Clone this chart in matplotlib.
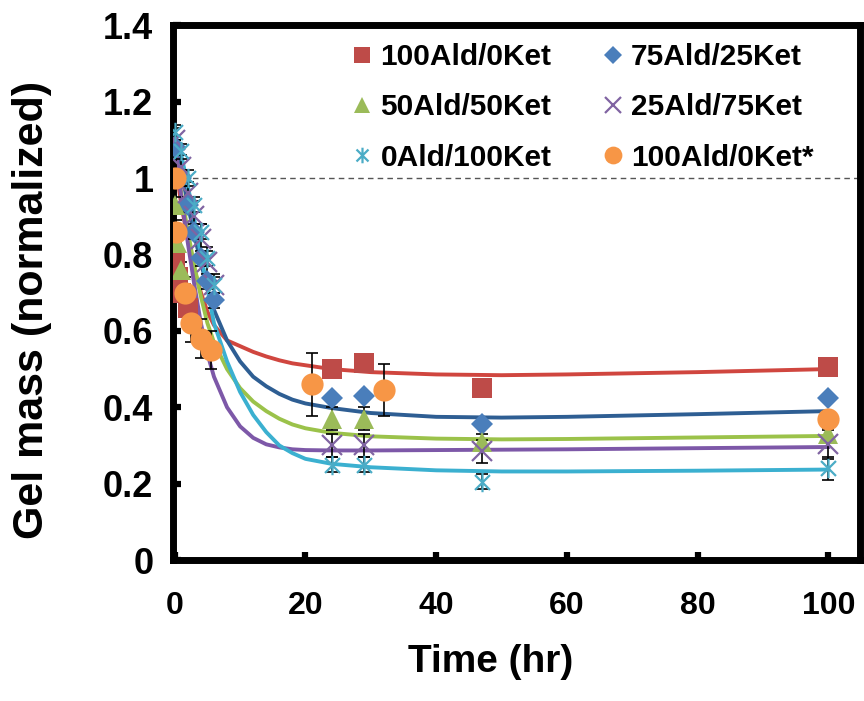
import matplotlib

matplotlib.use("Agg")
import matplotlib.pyplot as plt
from matplotlib.path import Path

plt.rcParams.update(
    {
        "font.family": ["Liberation Sans", "DejaVu Sans"],
        "font.weight": "bold",
    }
)

# ── data ────────────────────────────────────────────────────────────────────

labels = ["100Ald/0Ket", "75Ald/25Ket", "50Ald/50Ket",
          "25Ald/75Ket", "0Ald/100Ket", "100Ald/0Ket*"]

red_t = [0, 0.5, 1, 2, 24, 29, 47, 100]
red_y = [0.78, 0.74, 0.70, 0.66, 0.50, 0.515, 0.45, 0.505]
red_e = [0.02, 0.02, 0.02, 0.02, 0.0, 0.0, 0.0, 0.02]

blue_t = [0, 1, 2, 3, 4, 5, 6, 24, 29, 47, 100]
blue_y = [1.08, 1.0, 0.93, 0.86, 0.79, 0.73, 0.68, 0.425, 0.43, 0.355, 0.425]
blue_e = [0.02, 0.02, 0.02, 0.02, 0.02, 0.02, 0.02, 0.0, 0.0, 0.0, 0.0]

green_t = [0, 0.3, 1, 24, 29, 47, 100]
green_y = [0.93, 0.83, 0.76, 0.37, 0.37, 0.31, 0.33]
green_e = [0.02, 0.02, 0.02, 0.03, 0.03, 0.02, 0.01]

purple_t = [0, 1, 2, 3, 4, 5, 6, 24, 29, 47, 100]
purple_y = [1.10, 1.03, 0.96, 0.90, 0.84, 0.78, 0.72, 0.30, 0.30, 0.285, 0.305]
purple_e = [0.03, 0.03, 0.03, 0.04, 0.04, 0.04, 0.03, 0.03, 0.03, 0.03, 0.04]

cyan_t = [0, 1, 2, 3, 4, 5, 6, 24, 29, 47, 100]
cyan_y = [1.12, 1.07, 1.0, 0.93, 0.86, 0.79, 0.72, 0.25, 0.25, 0.205, 0.24]
cyan_e = [0.02, 0.02, 0.02, 0.02, 0.02, 0.02, 0.02, 0.02, 0.02, 0.02, 0.03]

orange_t = [0, 0.25, 1.5, 2.5, 4, 5.5, 21, 32, 100]
orange_y = [1.0, 0.86, 0.70, 0.62, 0.58, 0.55, 0.46, 0.445, 0.37]
orange_e = [0.02, 0.03, 0.04, 0.05, 0.05, 0.05, 0.083, 0.067, 0.02]

# fitted curves
fit_t = [0, 1, 2, 3, 4, 5, 6, 8, 10, 12, 14, 16, 18, 20, 24, 30, 40, 50, 60, 80, 100]
fit_red = [1.05, 0.93, 0.84, 0.76, 0.70, 0.65, 0.615, 0.575, 0.56, 0.545, 0.533,
           0.523, 0.515, 0.51, 0.50, 0.492, 0.486, 0.484, 0.486, 0.492, 0.50]
fit_blue = [1.10, 1.02, 0.93, 0.85, 0.78, 0.71, 0.655, 0.575, 0.52, 0.48, 0.455,
            0.435, 0.42, 0.41, 0.398, 0.385, 0.375, 0.373, 0.375, 0.382, 0.39]
fit_green = [1.08, 0.96, 0.86, 0.77, 0.69, 0.62, 0.57, 0.50, 0.45, 0.415, 0.39,
             0.37, 0.355, 0.345, 0.333, 0.324, 0.318, 0.316, 0.317, 0.321, 0.325]
fit_purple = [1.10, 0.95, 0.83, 0.72, 0.62, 0.54, 0.48, 0.40, 0.35, 0.32, 0.303,
              0.295, 0.29, 0.288, 0.287, 0.287, 0.288, 0.289, 0.29, 0.293, 0.296]
fit_cyan = [1.12, 1.06, 0.98, 0.89, 0.80, 0.71, 0.62, 0.52, 0.44, 0.38, 0.335,
            0.30, 0.28, 0.265, 0.252, 0.243, 0.235, 0.232, 0.232, 0.234, 0.237]

# Excel-style asterisk: an x plus a vertical bar
STAR = Path(
    [(-1, -1), (1, 1), (-1, 1), (1, -1), (0, -1.3), (0, 1.3)],
    [Path.MOVETO, Path.LINETO, Path.MOVETO, Path.LINETO, Path.MOVETO, Path.LINETO],
)

series = [
    (red_t, red_y, red_e, "#BE4B48", "s", 15, 0),
    (blue_t, blue_y, blue_e, "#4A7EBB", "D", 11, 0),
    (green_t, green_y, green_e, "#9BBB59", "^", 15, 0),
    (purple_t, purple_y, purple_e, "#8064A2", "x", 14, 1.6),
    (cyan_t, cyan_y, cyan_e, "#4BACC6", STAR, 14, 1.6),
    (orange_t, orange_y, orange_e, "#F79646", "o", 16, 0),
]
fits = [
    (fit_red, "#D0463F"),
    (fit_blue, "#2E5E93"),
    (fit_green, "#9BC24A"),
    (fit_purple, "#7D58A8"),
    (fit_cyan, "#3BB0D0"),
]

fig = plt.figure(figsize=(8.64, 7.01), dpi=100)
ax = fig.add_axes([0.200, 0.201, 0.795, 0.763])

ax.axhline(1.0, color="#555555", lw=1.0, dashes=(4, 3), zorder=1)

for ys, color in fits:
    ax.plot(fit_t, ys, color=color, lw=2.8, zorder=2)

handles = []
for (t, y, e, color, marker, ms, mew), lab in zip(series, labels):
    ax.errorbar(t, y, yerr=e, fmt="none", ecolor="black", elinewidth=1.2,
                capsize=4, capthick=1.2, zorder=3)
    h, = ax.plot(t, y, linestyle="none", marker=marker, ms=ms, color=color,
                 mec=color, mew=mew, zorder=4, label=lab)
    handles.append(h)

ax.set_xlim(-0.3, 104.8)
ax.set_ylim(0, 1.4)
ax.set_xticks([0, 20, 40, 60, 80, 100])
ax.set_yticks([0, 0.2, 0.4, 0.6, 0.8, 1.0, 1.2, 1.4])
ax.set_yticklabels(["0", "0.2", "0.4", "0.6", "0.8", "1", "1.2", "1.4"])

for s in ax.spines.values():
    s.set_linewidth(5)
ax.tick_params(axis="x", direction="in", length=6, width=4.5, labelsize=23, pad=22)
ax.tick_params(axis="y", direction="in", length=6, width=4.5, labelsize=26, pad=14)
for lbl in ax.get_xticklabels() + ax.get_yticklabels():
    lbl.set_fontweight("bold")

ax.set_xlabel("Time (hr)", fontsize=28, fontweight="bold")
ax.xaxis.set_label_coords(0.463, -0.157)
ax.set_ylabel("Gel mass (normalized)", fontsize=31, fontweight="bold")
ax.yaxis.set_label_coords(-0.176, 0.467)

# Excel fills the legend row by row
order = [0, 2, 4, 1, 3, 5]
leg = ax.legend(
    [handles[i] for i in order], [labels[i] for i in order],
    ncol=2, loc="upper left", bbox_to_anchor=(0.224, 1.017),
    frameon=False, handlelength=0.6, handletextpad=0.3,
    columnspacing=1.77, labelspacing=0.75, markerscale=0.8,
    prop={"weight": "bold", "size": 21.5},
)

fig.savefig("out.png", dpi=100)
